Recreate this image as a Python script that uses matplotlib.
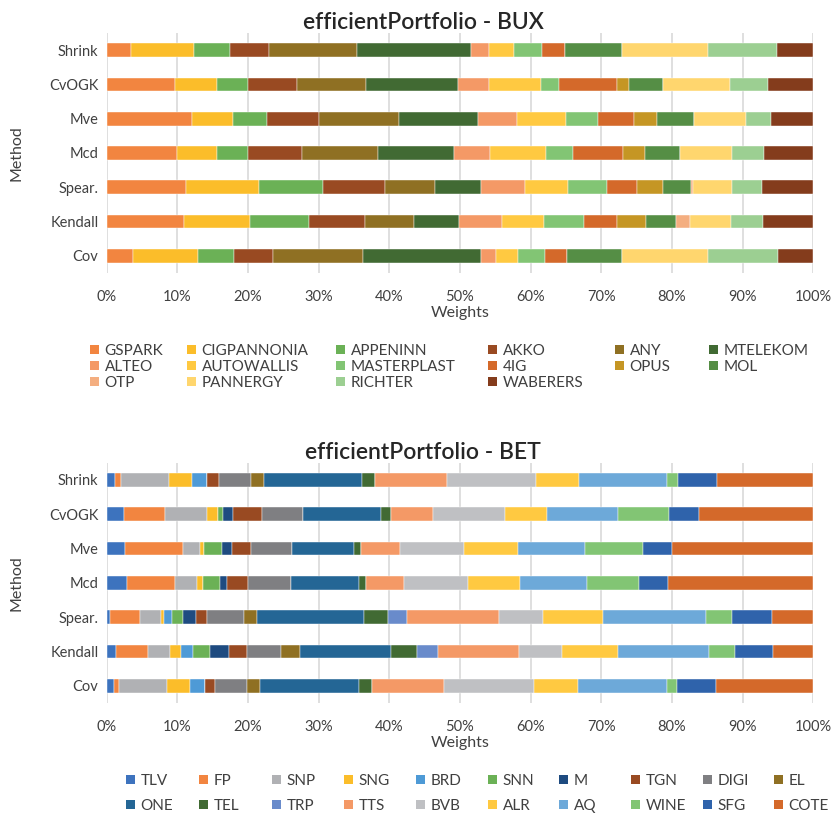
import matplotlib
matplotlib.use("Agg")
import matplotlib.pyplot as plt
from matplotlib.patches import Patch
from matplotlib.ticker import PercentFormatter

plt.rcParams['font.family'] = ['Lato', 'DejaVu Sans']

methods = ["Shrink", "CvOGK", "Mve", "Mcd", "Spear.", "Kendall", "Cov"]

# BUX portfolio weights (%)
bux_assets = ["GSPARK", "CIGPANNONIA", "APPENINN", "AKKO", "ANY", "MTELEKOM",
              "ALTEO", "AUTOWALLIS", "MASTERPLAST", "4IG", "OPUS", "MOL",
              "OTP", "PANNERGY", "RICHTER", "WABERERS"]
bux_colors = ["#F28540", "#FBBD2A", "#6BB156", "#994A22", "#8F7023", "#416A33",
              "#F49966", "#FFC941", "#82C574", "#D4692A", "#C59624", "#558E45",
              "#F4AE80", "#FFD66E", "#9CCF92", "#843C1C"]
bux_shrink = [3.44, 8.96, 5.01, 5.56, 12.5, 16.09, 2.59, 3.54, 3.87, 3.34, 0, 7.98, 0, 12.26, 9.72, 5.14]
bux_cvogk = [9.67, 5.98, 4.3, 6.98, 9.81, 12.98, 4.38, 7.32, 2.55, 8.25, 1.7, 4.85, 0, 9.48, 5.38, 6.37]
bux_mve = [12.07, 5.76, 4.81, 7.45, 11.23, 11.23, 5.52, 6.93, 4.49, 5.14, 3.25, 5.24, 0, 7.31, 3.54, 6.03]
bux_mcd = [9.99, 5.62, 4.34, 7.73, 10.76, 10.7, 5.1, 7.92, 3.83, 7.08, 3.15, 4.91, 0, 7.32, 4.53, 7.02]
bux_spear = [11.22, 10.33, 9.06, 8.78, 7.11, 6.5, 6.23, 6.01, 5.61, 4.2, 3.72, 3.93, 0.27, 5.53, 4.2, 7.3]
bux_kendall = [10.94, 9.34, 8.35, 7.97, 6.93, 6.33, 6.08, 5.91, 5.66, 4.71, 4.15, 4.2, 1.98, 5.8, 4.57, 7.08]
bux_cov = [3.72, 9.16, 5.09, 5.57, 12.77, 16.66, 2.12, 3.16, 3.78, 3.16, 0, 7.69, 0, 12.2, 9.88, 5.04]

# BET portfolio weights (%)
bet_assets = ["TLV", "FP", "SNP", "SNG", "BRD", "SNN", "M", "TGN", "DIGI", "EL",
              "ONE", "TEL", "TRP", "TTS", "BVB", "ALR", "AQ", "WINE", "SFG", "COTE"]
bet_colors = ["#3D73BE", "#F28540", "#B0B1B4", "#FBBD2A", "#4E9AD6", "#6BB156",
              "#1E4B80", "#994A22", "#7F7F82", "#8F7023", "#246695", "#416A33",
              "#698BCB", "#F49966", "#BFC0C3", "#FFC941", "#6DA9D9", "#82C574",
              "#2F63AB", "#D4692A"]
bet_shrink = [1.22, 0.8, 6.8, 3.21, 2.12, 0, 0, 1.74, 4.57, 1.84, 13.79, 1.88, 0, 10.15, 12.59, 6.13, 12.46, 1.55, 5.48, 13.67]
bet_cvogk = [2.45, 5.8, 5.94, 1.52, 0, 0.75, 1.46, 4.1, 5.72, 0, 11.12, 1.33, 0, 6.03, 10.11, 5.98, 10.09, 7.18, 4.29, 16.13]
bet_mve = [2.59, 8.17, 2.4, 0.61, 0, 2.55, 1.46, 2.68, 5.76, 0, 8.82, 0.99, 0, 5.52, 8.97, 7.65, 9.56, 8.21, 4.06, 20.0]
bet_mcd = [2.87, 6.8, 3.11, 0.85, 0, 2.36, 1.08, 2.93, 6.04, 0, 9.71, 0.95, 0, 5.37, 9.11, 7.31, 9.53, 7.35, 4.11, 20.52]
bet_spear = [0.47, 4.24, 2.97, 0.47, 1.13, 1.48, 1.88, 1.6, 5.15, 1.92, 15.06, 3.44, 2.69, 13.02, 6.27, 8.49, 14.58, 3.64, 5.65, 5.85]
bet_kendall = [1.36, 4.48, 3.16, 1.52, 1.74, 2.32, 2.77, 2.51, 4.85, 2.65, 12.88, 3.63, 3.06, 11.38, 6.13, 7.96, 12.8, 3.72, 5.42, 5.66]
bet_cov = [1.03, 0.71, 6.84, 3.17, 2.12, 0, 0, 1.5, 4.53, 1.8, 14.05, 1.84, 0, 10.19, 12.74, 6.14, 12.64, 1.41, 5.56, 13.73]

bux_rows = [bux_shrink, bux_cvogk, bux_mve, bux_mcd, bux_spear, bux_kendall, bux_cov]
bet_rows = [bet_shrink, bet_cvogk, bet_mve, bet_mcd, bet_spear, bet_kendall, bet_cov]

W, H = 835, 815
TEXT = "#404040"


def stacked(ax, rows, assets, colors, title):
    ypos = range(len(methods))
    left = [0.0] * len(methods)
    for j, name in enumerate(assets):
        vals = [r[j] / 100 for r in rows]
        ax.barh(ypos, vals, left=left, height=0.4, color=colors[j],
                edgecolor="white", linewidth=0.3, label=name, zorder=3)
        left = [l + v for l, v in zip(left, vals)]
    ax.set_xlim(0, 1)
    ax.set_ylim(len(methods) - 0.5, -0.5)
    ax.set_yticks(list(ypos))
    ax.set_yticklabels(methods)
    ax.set_xticks([i / 10 for i in range(11)])
    ax.xaxis.set_major_formatter(PercentFormatter(1.0, decimals=0))
    ax.grid(axis="x", color="#D9D9D9", linewidth=1.2, zorder=0)
    for s in ax.spines.values():
        s.set_visible(False)
    ax.tick_params(length=0, labelsize=10.5, colors=TEXT)
    ax.tick_params(axis="x", pad=12)
    ax.tick_params(axis="y", pad=6)
    # Excel centres the title over the whole chart, not the plot area
    ax.set_title(title, x=0.4476, fontsize=16.5, fontweight=600,
                 color="#262626", pad=1)
    ax.set_xlabel("Weights", fontsize=11.5, color=TEXT, labelpad=2)
    ax.set_ylabel("Method", fontsize=11.5, color=TEXT, labelpad=18)


def legend_columns(fig, assets, colors, nrows, xs, ytop, rowgap):
    # one small legend per column so columns sit where the reference has them
    ncols = len(xs)
    for c in range(ncols):
        idx = [c + r * ncols for r in range(nrows) if c + r * ncols < len(assets)]
        handles = [Patch(facecolor=colors[i], label=assets[i]) for i in idx]
        leg = fig.legend(handles=handles, loc="upper left",
                         bbox_to_anchor=(xs[c] / W, 1 - ytop / H),
                         frameon=False, handlelength=0.6, handleheight=0.6,
                         handletextpad=0.35, labelspacing=rowgap,
                         borderpad=0, borderaxespad=0, fontsize=11)
        for t in leg.get_texts():
            t.set_color(TEXT)


fig = plt.figure(figsize=(W / 100, H / 100), dpi=100)
ax1 = fig.add_axes([106.7 / W, 1 - 273 / H, 706.6 / W, 240 / H])
ax2 = fig.add_axes([106.7 / W, 1 - 703 / H, 706.6 / W, 240.3 / H])

stacked(ax1, bux_rows, bux_assets, bux_colors, "efficientPortfolio - BUX")
stacked(ax2, bet_rows, bet_assets, bet_colors, "efficientPortfolio - BET")

legend_columns(fig, bux_assets, bux_colors, 3,
               [90, 187, 336, 488, 615, 709], 344, 0.13)
legend_columns(fig, bet_assets, bet_colors, 2,
               [126, 199, 272, 344, 416, 488, 559, 631, 703, 774], 774, 0.72)

fig.savefig("out.png", dpi=100)
